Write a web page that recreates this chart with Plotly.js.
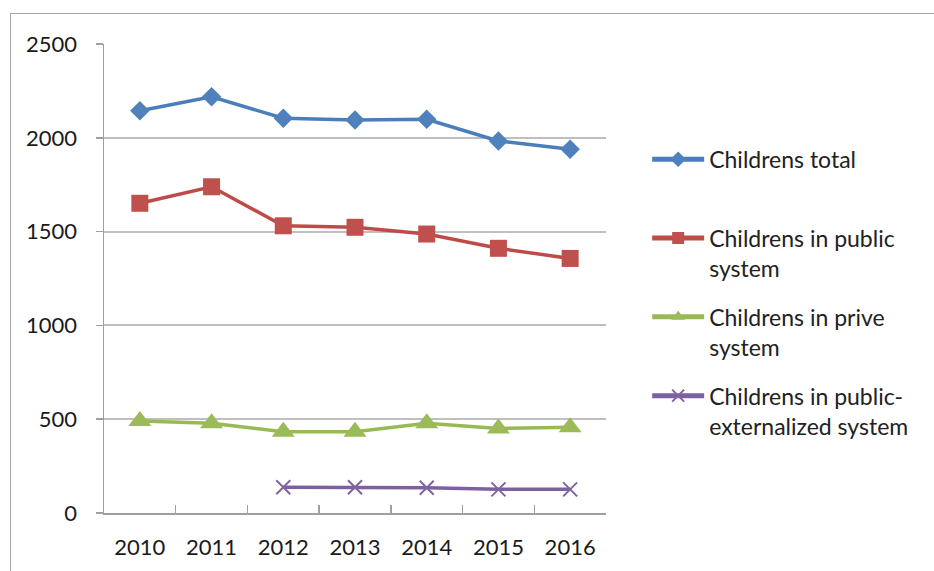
<!DOCTYPE html>
<html>
<head>
<meta charset="utf-8">
<script src="https://cdn.plot.ly/plotly-3.0.1.min.js"></script>
<style>
html,body{margin:0;padding:0;background:#fff;overflow:hidden;}
#wrap{position:relative;width:934px;height:571px;}
#frame{position:absolute;left:10px;top:13px;width:940px;height:600px;border-left:1.5px solid #a6a6a6;border-top:1.5px solid #a6a6a6;pointer-events:none;}
#chart{position:absolute;left:0;top:0;width:934px;height:571px;}
</style>
</head>
<body>
<div id="wrap"><div id="chart"></div><div id="frame"></div></div>
<script>
const years = ["2010","2011","2012","2013","2014","2015","2016"];
const yearsExt = ["2012","2013","2014","2015","2016"];
const totalVals = [2144, 2219, 2104, 2095, 2099, 1983, 1939];
const publicVals = [1651, 1739, 1531, 1523, 1487, 1411, 1357];
const priveVals = [490, 478, 433, 433, 478, 451, 457];
const externVals = [137, 137, 135, 126, 126];
const yTicks = [0, 500, 1000, 1500, 2000, 2500];
const seriesNames = ["Childrens total<br> ", "Childrens in public<br>system", "Childrens in prive<br>system", "Childrens in public-<br>externalized system"];

const traces = [
  {x: years, y: totalVals, name: seriesNames[0], legendgroup: "a", mode: "lines+markers", type: "scatter",
   line: {color: "#4A7EBB", width: 3.5}, marker: {symbol: "diamond", size: 15, color: "#4F81BD"}},
  {x: years, y: publicVals, name: seriesNames[1], legendgroup: "b", mode: "lines+markers", type: "scatter",
   line: {color: "#BE4B48", width: 3.5}, marker: {symbol: "square", size: 17, color: "#C0504D"}},
  {x: years, y: priveVals, name: seriesNames[2], legendgroup: "c", mode: "lines+markers", type: "scatter",
   line: {color: "#98B954", width: 3.5}, marker: {symbol: "triangle-up", size: 20, color: "#9BBB59"}},
  {x: yearsExt, y: externVals, name: seriesNames[3], legendgroup: "d", mode: "lines+markers", type: "scatter",
   line: {color: "#7D60A0", width: 3.5}, marker: {symbol: "x-thin-open", size: 14, color: "#8064A2", line: {color: "#8064A2", width: 2}}}
];

const layout = {
  width: 934, height: 571,
  margin: {l: 104, r: 328, t: 44, b: 58},
  paper_bgcolor: "#fff", plot_bgcolor: "#fff",
  font: {family: "Lato, 'Open Sans', sans-serif", color: "#222"},
  showlegend: true,
  legend: {x: 1.082, xanchor: "left", y: 0.80, yanchor: "top", valign: "top", itemsizing: "constant",
           font: {size: 23, color: "#222"}, itemwidth: 52, tracegroupgap: 16, bgcolor: "rgba(0,0,0,0)"},
  xaxis: {type: "category", categoryorder: "array", categoryarray: years,
          range: [-0.5, 6.5], showgrid: false, showline: true, linecolor: "#a0a0a0", linewidth: 1.5,
          ticks: "inside", tickson: "boundaries", ticklen: 8, tickcolor: "#a0a0a0", tickwidth: 1.5,
          tickfont: {size: 22, color: "#1a1a1a"}, ticklabelstandoff: 14, fixedrange: true},
  yaxis: {range: [0, 2500], tickvals: yTicks, ticktext: yTicks.map(String),
          showgrid: true, gridcolor: "#bfbfbf", gridwidth: 2, zeroline: false,
          showline: true, linecolor: "#a0a0a0", linewidth: 1.5,
          ticks: "outside", ticklen: 7, tickcolor: "#a0a0a0", tickwidth: 1.5,
          tickfont: {size: 22, color: "#1a1a1a"}, ticklabelstandoff: 14, fixedrange: true}
};

Plotly.newPlot("chart", traces, layout, {displayModeBar: false, staticPlot: true});
</script>
</body>
</html>
